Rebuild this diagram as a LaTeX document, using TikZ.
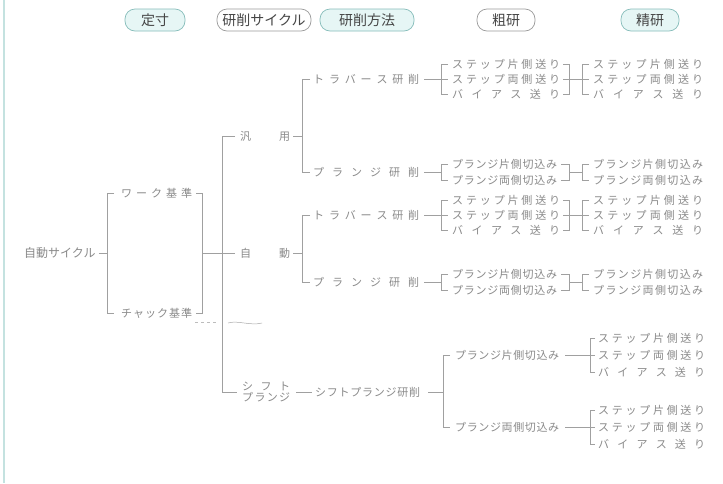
\documentclass[tikz,border=0pt]{standalone}
\usepackage{fontspec}
\newfontfamily\jp{Noto Sans CJK JP}
\usetikzlibrary{calc}
\definecolor{txt}{HTML}{8A8A8A}
\definecolor{lncol}{HTML}{A0A0A0}
\definecolor{hdr}{HTML}{454545}
\definecolor{cyanfill}{HTML}{E6F6F5}
\definecolor{cyanedge}{HTML}{86BDBA}
\definecolor{grayedge}{HTML}{9A9A9A}
\definecolor{bordercol}{HTML}{C4E2E0}
\def\spr#1#2{#1\ifx\relax#2\else\hfill\expandafter\spr\expandafter#2\fi}
\newcommand\spreadtxt[2]{\makebox[#1pt][s]{\spr#2\relax}}
\tikzset{
  t/.style={anchor=west, inner sep=0pt, text=txt, font=\jp\fontsize{11}{12}\selectfont},
  hd/.style={rounded corners=10pt, minimum height=22pt, inner sep=0pt, text=hdr,
    font=\jp\fontsize{14}{16}\selectfont, line width=0.7pt},
  hc/.style={hd, fill=cyanfill, draw=cyanedge},
  hw/.style={hd, fill=white, draw=grayedge},
  wire/.style={draw=lncol, line width=0.5pt}
}
% one grinding-method section: #1 prefix, #2 y traverse, #3 y label, #4 y plunge, #5 label
\newcommand\grsec[5]{%
  \node[t] (#1lab) at (240,#3) {\spreadtxt{50}{#5}};
  \node[t] (#1tr) at (313,#2) {\spreadtxt{106}{トラバース研削}};
  \node[t] (#1pl) at (313,#4) {\spreadtxt{106}{プランジ研削}};
  \node[t] (#1a1) at (452,#2-15) {\spreadtxt{108}{ステップ片側送り}};
  \node[t] (#1a2) at (452,#2) {\spreadtxt{108}{ステップ両側送り}};
  \node[t] (#1a3) at (452,#2+15) {\spreadtxt{108}{バイアス送り}};
  \node[t] (#1b1) at (593,#2-15) {\spreadtxt{110}{ステップ片側送り}};
  \node[t] (#1b2) at (593,#2) {\spreadtxt{110}{ステップ両側送り}};
  \node[t] (#1b3) at (593,#2+15) {\spreadtxt{110}{バイアス送り}};
  \node[t] (#1p1) at (452,#4-8) {\spreadtxt{105}{プランジ片側切込み}};
  \node[t] (#1p2) at (452,#4+8) {\spreadtxt{105}{プランジ両側切込み}};
  \node[t] (#1q1) at (593,#4-8) {\spreadtxt{110}{プランジ片側切込み}};
  \node[t] (#1q2) at (593,#4+8) {\spreadtxt{110}{プランジ両側切込み}};
  \coordinate (#1bk) at ([xshift=-11pt]#1tr.west);
  \coordinate (#1pm) at ($(#1p1.west)!0.5!(#1p2.west)$);
  \coordinate (#1pe) at ($(#1p1.east)!0.5!(#1p2.east)$);
  \coordinate (#1qm) at ($(#1q1.west)!0.5!(#1q2.west)$);
  \draw[wire] ([xshift=3pt]#1lab.east) -- (#1lab.east -| #1bk);
  \draw[wire] ([xshift=-3pt]#1tr.west) -- (#1bk) -- (#1pl.west -| #1bk) -- ([xshift=-3pt]#1pl.west);
  \draw[wire] ([xshift=5pt]#1tr.east) -- ([xshift=-4pt]#1a2.west);
  \draw[wire] ([xshift=-4pt]#1a1.west) -- ([xshift=-11pt]#1a1.west) -- ([xshift=-11pt]#1a3.west) -- ([xshift=-4pt]#1a3.west);
  \draw[wire] ([xshift=3pt]#1a1.east) -- ([xshift=9pt]#1a1.east) -- ([xshift=9pt]#1a3.east) -- ([xshift=3pt]#1a3.east);
  \draw[wire] ([xshift=3pt]#1a2.east) -- ([xshift=-4pt]#1b2.west);
  \draw[wire] ([xshift=-4pt]#1b1.west) -- ([xshift=-11pt]#1b1.west) -- ([xshift=-11pt]#1b3.west) -- ([xshift=-4pt]#1b3.west);
  \draw[wire] ([xshift=5pt]#1pl.east) -- ([xshift=-11pt]#1pm);
  \draw[wire] ([xshift=-4pt]#1p1.west) -- ([xshift=-11pt]#1p1.west) -- ([xshift=-11pt]#1p2.west) -- ([xshift=-4pt]#1p2.west);
  \draw[wire] ([xshift=4pt]#1p1.east) -- ([xshift=12pt]#1p1.east) -- ([xshift=12pt]#1p2.east) -- ([xshift=4pt]#1p2.east);
  \draw[wire] ([xshift=12pt]#1pe) -- ([xshift=-11pt]#1qm);
  \draw[wire] ([xshift=-4pt]#1q1.west) -- ([xshift=-11pt]#1q1.west) -- ([xshift=-11pt]#1q2.west) -- ([xshift=-4pt]#1q2.west);
}
\begin{document}
\begin{tikzpicture}[x=1pt,y=-1pt]
\useasboundingbox (0,0) rectangle (723,483);
\fill[white] (0,0) rectangle (723,483);
\draw[bordercol, line width=1.5pt] (4,0) -- (4,483);
% headers
\node[hc, minimum width=60pt] (h1) at (155,20) {定寸};
\node[hw, minimum width=94pt] (h2) at (264,20) {研削サイクル};
\node[hc, minimum width=94pt] (h3) at (367,20) {研削方法};
\node[hw, minimum width=58pt] (h4) at (506,20) {粗研};
\node[hc, minimum width=58pt] (h5) at (650,20) {精研};
% level 0
\node[t, font=\jp\fontsize{12}{12}\selectfont] (root) at (24,253) {自動サイクル};
\node[t] (work) at (121,193) {\spreadtxt{71}{ワーク基準}};
\node[t] (chuck) at (121,313) {\spreadtxt{71}{チャック基準}};
\coordinate (lb) at ([xshift=-14pt]work.west);
\draw[wire] ([xshift=3pt]root.east) -- (root.east -| lb);
\draw[wire] ([xshift=-7pt]work.west) -- (lb) -- (chuck.west -| lb) -- ([xshift=-7pt]chuck.west);
\draw[wire] ([xshift=4pt]work.east) -- ([xshift=10pt]work.east) -- ([xshift=10pt]chuck.east) -- ([xshift=4pt]chuck.east);
\coordinate (rb) at ($([xshift=10pt]work.east)!0.5!([xshift=10pt]chuck.east)$);
% sections
\grsec{G}{79}{136}{172}{汎用}
\grsec{A}{215}{253}{282}{自動}
\coordinate (mv) at (222,0);
\draw[wire] (rb) -- ([xshift=-5pt]Alab.west);
% shift plunge
\node[t, align=left] (sl) at (242,392) {\spreadtxt{48}{シフト}\\[-1pt]\spreadtxt{48}{プランジ}};
\node[t] (sp) at (315,392) {\spreadtxt{105}{シフトプランジ研削}};
\draw[wire] ([xshift=-5pt]Glab.west) -- (Glab.west -| mv) -- (sl.west -| mv) -- ([xshift=-5pt]sl.west);
\draw[wire] ([xshift=6pt]sl.east) -- ([xshift=-3pt]sp.west);
\node[t] (sx1) at (455,355) {\spreadtxt{104}{プランジ片側切込み}};
\node[t] (sx2) at (455,427) {\spreadtxt{104}{プランジ両側切込み}};
\coordinate (sb) at ([xshift=-12pt]sx1.west);
\draw[wire] ([xshift=8pt]sp.east) -- (sp.east -| sb);
\draw[wire] ([xshift=-5pt]sx1.west) -- (sb) -- (sx2.west -| sb) -- ([xshift=-5pt]sx2.west);
\node[t] (su1) at (598,338) {\spreadtxt{107}{ステップ片側送り}};
\node[t] (su2) at (598,355) {\spreadtxt{107}{ステップ両側送り}};
\node[t] (su3) at (598,372) {\spreadtxt{107}{バイアス送り}};
\node[t] (sd1) at (598,410) {\spreadtxt{107}{ステップ片側送り}};
\node[t] (sd2) at (598,427) {\spreadtxt{107}{ステップ両側送り}};
\node[t] (sd3) at (598,444) {\spreadtxt{107}{バイアス送り}};
\draw[wire] ([xshift=6pt]sx1.east) -- ([xshift=-3pt]su2.west);
\draw[wire] ([xshift=-3pt]su1.west) -- ([xshift=-8pt]su1.west) -- ([xshift=-8pt]su3.west) -- ([xshift=-3pt]su3.west);
\draw[wire] ([xshift=6pt]sx2.east) -- ([xshift=-3pt]sd2.west);
\draw[wire] ([xshift=-3pt]sd1.west) -- ([xshift=-8pt]sd1.west) -- ([xshift=-8pt]sd3.west) -- ([xshift=-3pt]sd3.west);
% faint scan mark below chuck
\draw[lncol!70, dashed, line width=0.4pt] (195,322) -- (218,322);
\draw[lncol!90, line width=0.5pt] (228,323) .. controls (238,320) and (250,326) .. (262,323);
\end{tikzpicture}
\end{document}
